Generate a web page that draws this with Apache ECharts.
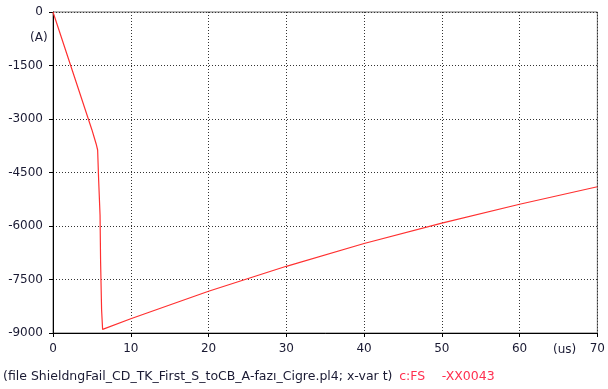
<!DOCTYPE html>
<html><head><meta charset="utf-8">
<script src="https://cdn.jsdelivr.net/npm/echarts@6/dist/echarts.min.js"></script>
<style>html,body{margin:0;padding:0;background:#fff}#c{width:608px;height:389px}</style>
</head><body><div id="c"></div>
<script>
const tValues = [0, 5.0, 5.33, 5.55, 5.74, 5.87, 6.05, 6.12, 6.25, 6.38, 10, 20, 30, 40, 50, 60, 70];
const iValues = [0, -3300, -3541, -3700, -3869, -4710, -5692, -7000, -8355, -8900, -8600, -7830, -7130, -6490, -5920, -5390, -4900];
const yTicks = [0, -1500, -3000, -4500, -6000, -7500, -9000];
const xTicks = [0, 10, 20, 30, 40, 50, 60, 70];
const yUnit = '(A)';
const xUnit = '(us)';
const footerFile = '(file ShieldngFail_CD_TK_First_S_toCB_A-fazı_Cigre.pl4; x-var t)';
const footerVar = 'c:FS';
const footerNode = '-XX0043';

const font = 'DejaVu Sans';
const chart = echarts.init(document.getElementById('c'));
chart.setOption({
  animation: false,
  backgroundColor: '#fff',
  grid: { left: 53, right: 3, top: 12, bottom: 56, show: true, borderColor: '#6e6e6e', borderWidth: 1 },
  xAxis: {
    type: 'value', min: xTicks[0], max: xTicks[xTicks.length - 1], interval: 10,
    axisLine: { show: true, onZero: false, lineStyle: { color: '#000', width: 1 } },
    axisTick: { show: true, length: 4, lineStyle: { color: '#000' } },
    axisLabel: { color: '#1a1a33', fontFamily: font, fontSize: 12, margin: 10, formatter: v => String(v) },
    splitLine: { show: true, lineStyle: { color: '#333', type: [1, 2], width: 1 } }
  },
  yAxis: {
    type: 'value', min: yTicks[yTicks.length - 1], max: yTicks[0], interval: 1500,
    axisLine: { show: true, onZero: false, lineStyle: { color: '#000', width: 1 } },
    axisTick: { show: true, length: 4, lineStyle: { color: '#000' } },
    axisLabel: { color: '#1a1a33', fontFamily: font, fontSize: 12, margin: 10, formatter: v => String(v) },
    splitLine: { show: true, lineStyle: { color: '#333', type: [1, 2], width: 1 } }
  },
  series: [{
    type: 'line', showSymbol: false, symbol: 'none',
    data: tValues.map((t, k) => [t, iValues[k]]),
    lineStyle: { color: '#ff3030', width: 1.2 },
    z: 5
  }],
  graphic: [
    { type: 'text', left: 30, top: 32, style: { text: yUnit, fill: '#1a1a33', font: '12px "DejaVu Sans"' } },
    { type: 'text', left: 553, top: 344, style: { text: xUnit, fill: '#1a1a33', font: '12px "DejaVu Sans"' } },
    { type: 'text', left: 3, top: 370, style: {
      text: '{a|' + footerFile + '}  {b|' + footerVar + '}     {b|' + footerNode + '}',
      rich: {
        a: { fill: '#1a1a33', font: '12.5px "DejaVu Sans"' },
        b: { fill: '#ff3050', font: '12.5px "DejaVu Sans"' }
      }
    } }
  ]
});
</script></body></html>
